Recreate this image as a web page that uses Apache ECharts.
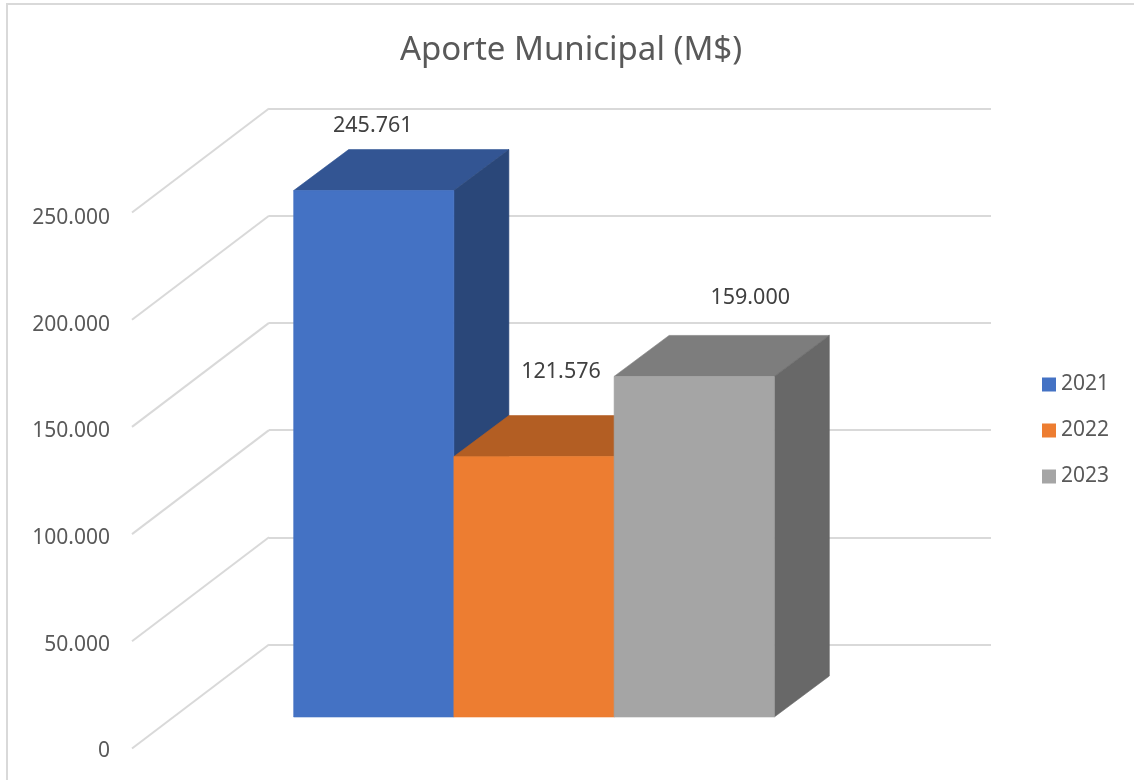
<!DOCTYPE html>
<html>
<head>
<meta charset="utf-8">
<title>Aporte Municipal</title>
<script src="https://cdn.jsdelivr.net/npm/echarts@6/dist/echarts.min.js"></script>
<style>
  html, body { margin: 0; padding: 0; background: #fff; }
  #chart { width: 1134px; height: 780px; }
</style>
</head>
<body>
<div id="chart"></div>
<script>
const years = ['2021', '2022', '2023'];
const aporte = [245761, 121576, 159000];
const yTicks = [0, 50000, 100000, 150000, 200000, 250000];

const frontColors = ['#4472C4', '#ED7D31', '#A5A5A5'];
const topColors = ['#335593', '#B35E23', '#7D7D7D'];
const sideColors = ['#2A4779', '#9A5020', '#686868'];
// las etiquetas estan movidas a mano en el original
const labelNudge = [[-1, -65], [27, -85], [56, -79]];

const FONT = '"Noto Sans", sans-serif';
const WALL_DEPTH = [137, -104];
const BAR_DEPTH = [55, -41];
const BAR_SHARE = 1 / 4.5; // 3 barras + hueco de 0.75 a cada lado

const chart = echarts.init(document.getElementById('chart'));

const fmt = (v) => String(v).replace(/\B(?=(\d{3})+(?!\d))/g, '.');

const axisOff = { show: false };
const hiddenX = (gridIndex) => ({
  type: 'value', gridIndex, min: 0, max: 1,
  axisLine: axisOff, axisTick: axisOff, axisLabel: axisOff, splitLine: axisOff
});

const renderDiagonal = (params, api) => {
  const p = api.coord([0, api.value(0)]);
  return {
    type: 'line',
    shape: { x1: p[0], y1: p[1], x2: p[0] + WALL_DEPTH[0], y2: p[1] + WALL_DEPTH[1] },
    style: { stroke: '#D9D9D9', lineWidth: 2 }
  };
};

const renderBar = (idx) => (params, api) => {
  const base = api.coord([0, 0]);
  const top = api.coord([0, api.value(0)]);
  const w = api.size([BAR_SHARE, 0])[0];
  const left = api.coord([0.5, 0])[0] + (idx - 1.5) * w;
  const right = left + w;
  const [dx, dy] = BAR_DEPTH;
  const poly = (points, color) => ({
    type: 'polygon',
    shape: { points },
    style: { fill: color, stroke: color, lineWidth: 0.6 }
  });
  return {
    type: 'group',
    children: [
      poly([[left, top[1]], [right, top[1]], [right + dx, top[1] + dy], [left + dx, top[1] + dy]], topColors[idx]),
      poly([[right, top[1]], [right + dx, top[1] + dy], [right + dx, base[1] + dy], [right, base[1]]], sideColors[idx]),
      poly([[left, top[1]], [right, top[1]], [right, base[1]], [left, base[1]]], frontColors[idx]),
      {
        type: 'text',
        style: {
          x: (left + right) / 2 + labelNudge[idx][0],
          y: top[1] + labelNudge[idx][1],
          text: fmt(api.value(0)),
          align: 'center',
          verticalAlign: 'middle',
          fill: '#404040',
          font: '21.5px ' + FONT
        }
      }
    ]
  };
};

const option = {
  animation: false,
  backgroundColor: '#fff',
  textStyle: { fontFamily: FONT },
  title: {
    text: 'Aporte Municipal (M$)',
    left: 571,
    top: 34,
    padding: 0,
    textAlign: 'center',
    textStyle: { fontFamily: FONT, fontSize: 33, fontWeight: 'normal', color: '#595959' }
  },
  legend: {
    data: years,
    orient: 'vertical',
    left: 1042,
    top: 374,
    padding: 0,
    itemWidth: 14,
    itemHeight: 14,
    itemGap: 25,
    icon: 'rect',
    selectedMode: false,
    textStyle: { fontFamily: FONT, fontSize: 21, color: '#595959', lineHeight: 20 }
  },
  graphic: [{
    type: 'rect',
    shape: { x: 7, y: 4, width: 1200, height: 900 },
    style: { fill: 'none', stroke: '#D9D9D9', lineWidth: 2 },
    silent: true,
    z: -1
  }],
  grid: [
    // pared del fondo, plano de las diagonales, plano de las barras y plano de los textos del eje
    { left: 269, top: 108.5, width: 722, height: 536 },
    { left: 132, top: 212.5, width: 722, height: 536 },
    { left: 173.5, top: 181.5, width: 721, height: 535.5 },
    { left: 132, top: 218, width: 722, height: 533.5 }
  ],
  xAxis: [hiddenX(0), hiddenX(1), hiddenX(2), hiddenX(3)],
  yAxis: [0, 1, 2, 3].map((i) => ({
    type: 'value',
    gridIndex: i,
    min: 0,
    max: 250000,
    interval: 50000,
    axisLine: axisOff,
    axisTick: axisOff,
    axisLabel: i === 3
      ? { show: true, margin: 22, fontFamily: FONT, fontSize: 21, color: '#595959', formatter: fmt }
      : axisOff,
    splitLine: i === 0
      ? { show: true, lineStyle: { color: '#D9D9D9', width: 2 } }
      : axisOff
  })),
  series: [
    {
      type: 'custom',
      name: 'diagonales',
      xAxisIndex: 1,
      yAxisIndex: 1,
      silent: true,
      encode: { y: 0 },
      data: yTicks.map((v) => [v]),
      renderItem: renderDiagonal
    },
    ...years.map((year, i) => ({
      type: 'custom',
      name: year,
      xAxisIndex: 2,
      yAxisIndex: 2,
      silent: true,
      itemStyle: { color: frontColors[i] },
      encode: { y: 0 },
      data: [[aporte[i]]],
      renderItem: renderBar(i)
    }))
  ]
};

chart.setOption(option);
window.addEventListener('resize', () => chart.resize());
</script>
</body>
</html>
